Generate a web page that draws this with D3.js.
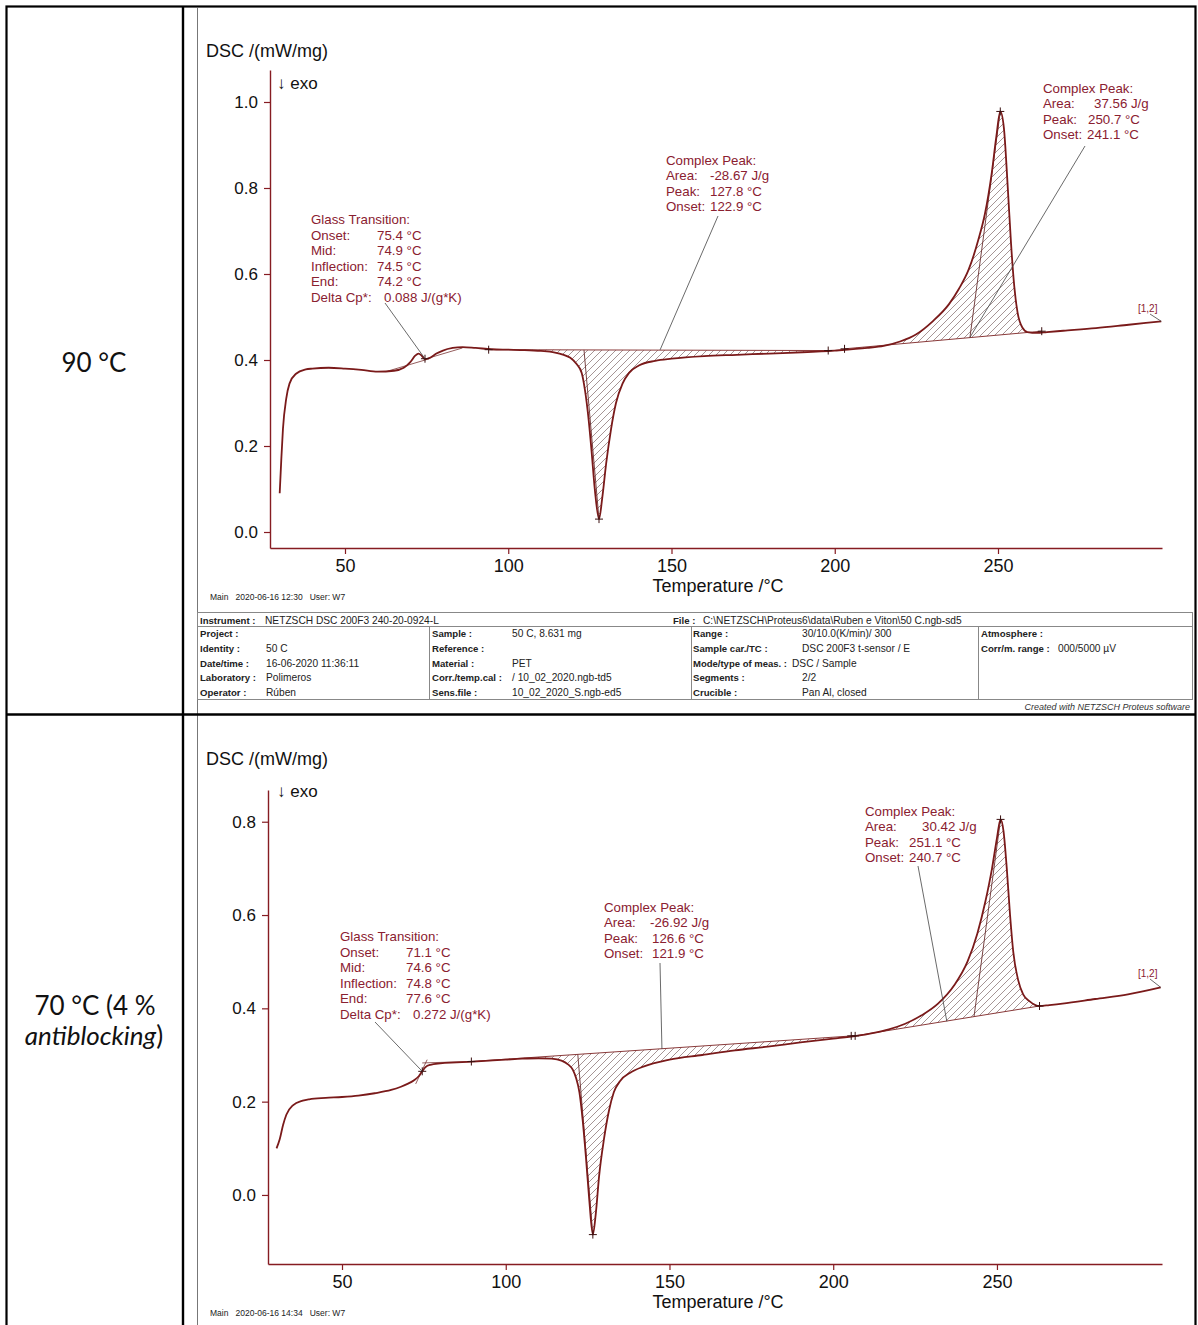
<!DOCTYPE html>
<html><head><meta charset="utf-8">
<script src="https://cdn.jsdelivr.net/npm/d3@7"></script>
<style>body{margin:0;background:#fff}svg{display:block}</style>
</head><body>
<script>
// ---------------- DATA ----------------
const xTicks = [50, 100, 150, 200, 250];
const topYTicks = [0.0, 0.2, 0.4, 0.6, 0.8, 1.0];
const botYTicks = [0.0, 0.2, 0.4, 0.6, 0.8];

// 90 °C curve  [Temperature °C, DSC mW/mg]
const topCurve = [[30,0.09],[30.5,0.17],[31,0.24],[32,0.31],[33,0.345],[35,0.368],[38,0.378],[40,0.38],[45,0.382],[50,0.38],[55,0.377],[60,0.373],[65,0.375],[68,0.382],[70,0.395],[71.5,0.41],[72.5,0.415],[73.5,0.41],[74.5,0.402],[76,0.405],[78,0.415],[80,0.422],[83,0.428],[86,0.43],[90,0.428],[95,0.425],[100,0.424],[105,0.423],[110,0.421],[114,0.418],[117,0.412],[119,0.405],[121,0.39],[122.5,0.37],[123.5,0.33],[124.5,0.27],[125.5,0.19],[126.5,0.1],[127.8,0.03],[128.8,0.08],[130,0.16],[131.5,0.24],[133,0.3],[135,0.345],[137,0.37],[140,0.387],[145,0.398],[150,0.403],[160,0.409],[170,0.412],[180,0.415],[190,0.418],[200,0.422],[210,0.428],[215,0.433],[220,0.443],[225,0.46],[230,0.49],[235,0.53],[238,0.565],[241,0.61],[244,0.68],[246,0.74],[248,0.83],[249.5,0.92],[250.7,0.978],[251.8,0.94],[253,0.8],[254,0.67],[255,0.57],[256,0.51],[257.5,0.475],[259,0.465],[262,0.463],[265,0.465],[270,0.468],[280,0.474],[290,0.482],[300,0.49]];
// 70 °C (4 % antiblocking) curve
const botCurve = [[30,0.1],[31,0.12],[32,0.15],[33,0.172],[35,0.192],[38,0.202],[40,0.205],[45,0.208],[50,0.21],[55,0.213],[60,0.218],[65,0.225],[68,0.232],[70,0.238],[72,0.246],[73.5,0.255],[74.5,0.265],[75.5,0.274],[77,0.279],[80,0.282],[85,0.284],[90,0.286],[95,0.288],[100,0.29],[105,0.292],[110,0.293],[114,0.292],[117,0.288],[119,0.28],[120.5,0.268],[121.5,0.25],[122.5,0.22],[123.5,0.16],[124.5,0.08],[125.5,-0.01],[126.6,-0.085],[127.5,-0.04],[128.5,0.04],[130,0.12],[131.5,0.18],[133,0.22],[135,0.245],[138,0.262],[142,0.275],[150,0.29],[160,0.3],[170,0.31],[180,0.318],[190,0.327],[200,0.335],[207,0.341],[212,0.347],[217,0.355],[222,0.367],[227,0.385],[232,0.41],[237,0.45],[241,0.5],[244,0.56],[246.5,0.63],[248.5,0.7],[250,0.765],[251.1,0.805],[252,0.78],[253,0.7],[254,0.6],[255,0.52],[256.5,0.46],[258,0.43],[260,0.415],[263,0.405],[266,0.407],[270,0.41],[280,0.42],[290,0.43],[300,0.445]];

// peak baselines [[T0,y0],[T1,y1]]
const topBaselines = [[[94,0.424],[198,0.422]], [[203,0.426],[263.4,0.467]]];
const botBaselines = [[[89.5,0.286],[206,0.341]], [[206.7,0.341],[263,0.405]]];
// partition lines: start temperature on baseline -> peak point
const topPartitions = [[123.2,[127.8,0.03]], [241.4,[250.7,0.978]]];
const botPartitions = [[122,[126.6,-0.085]], [243,[251.1,0.805]]];
// markers
const topMarkers = [[74.5,0.403],[94,0.424],[127.8,0.03],[198,0.422],[203,0.426],[250.7,0.978],[263.4,0.467]];
const botMarkers = [[74.5,0.265],[89.5,0.286],[126.6,-0.085],[205.5,0.341],[206.7,0.341],[251.1,0.805],[263,0.405]];
// glass-transition construction lines
const topGlassLines = [[[63,0.374],[75,0.401]], [[74.5,0.402],[86,0.428]]];
const botGlassLines = [[[74.5,0.283],[89.5,0.286]], [[72.5,0.238],[76,0.29]]];

// annotation texts
const glassLabels = ["Onset:", "Mid:", "Inflection:", "End:", "Delta Cp*:"];
const topGlassValues = ["75.4 °C", "74.9 °C", "74.5 °C", "74.2 °C", "0.088 J/(g*K)"];
const botGlassValues = ["71.1 °C", "74.6 °C", "74.8 °C", "77.6 °C", "0.272 J/(g*K)"];
const peakLabels = ["Area:", "Peak:", "Onset:"];
const topPeak1Values = ["-28.67 J/g", "127.8 °C", "122.9 °C"];
const topPeak2Values = ["37.56 J/g", "250.7 °C", "241.1 °C"];
const botPeak1Values = ["-26.92 J/g", "126.6 °C", "121.9 °C"];
const botPeak2Values = ["30.42 J/g", "251.1 °C", "240.7 °C"];

// info table (top chart)
const infoCol1 = [["Project :", ""], ["Identity :", "50 C"], ["Date/time :", "16-06-2020 11:36:11"], ["Laboratory :", "Polimeros"], ["Operator :", "Rúben"]];
const infoCol2 = [["Sample :", "50 C, 8.631 mg"], ["Reference :", ""], ["Material :", "PET"], ["Corr./temp.cal :", "/ 10_02_2020.ngb-td5"], ["Sens.file :", "10_02_2020_S.ngb-ed5"]];
const infoCol3 = [["Range :", "30/10.0(K/min)/ 300"], ["Sample car./TC :", "DSC 200F3 t-sensor / E"], ["Mode/type of meas. :", "DSC / Sample"], ["Segments :", "2/2"], ["Crucible :", "Pan Al, closed"]];
const infoCol4 = [["Atmosphere :", ""], ["Corr/m. range :", "000/5000 µV"]];

// ---------------- DRAW ----------------
const W = 1198, H = 1325;
const FONT = "'Liberation Sans', Arial, Helvetica, sans-serif";
const RED = "#861c22", CURVE = "#7a1a1a", TXT = "#8a2030";
const svg = d3.select("body").append("svg").attr("width", W).attr("height", H);

const defs = svg.append("defs");
const pat = defs.append("pattern").attr("id", "hatch").attr("patternUnits", "userSpaceOnUse")
  .attr("width", 7).attr("height", 7);
pat.append("path").attr("d", "M0,7 L7,0 M-1,1 L1,-1 M6,8 L8,6")
  .attr("stroke", "#8f7a7a").attr("stroke-width", 0.8);

// outer table
const tbl = svg.append("g");
tbl.append("rect").attr("x", 6.5).attr("y", 6.5).attr("width", 1189).attr("height", 1330)
  .attr("fill", "none").attr("stroke", "#000").attr("stroke-width", 2.2);
tbl.append("line").attr("x1", 183).attr("x2", 183).attr("y1", 6).attr("y2", H).attr("stroke", "#000").attr("stroke-width", 2.4);
tbl.append("line").attr("x1", 197.5).attr("x2", 197.5).attr("y1", 8).attr("y2", H).attr("stroke", "#777").attr("stroke-width", 1);
tbl.append("line").attr("x1", 6).attr("x2", 1196).attr("y1", 714.5).attr("y2", 714.5).attr("stroke", "#000").attr("stroke-width", 2.6);

// left column labels
const LFONT = "Lato, 'Open Sans', sans-serif";
svg.append("text").attr("x", 94).attr("y", 372).attr("text-anchor", "middle")
  .attr("font-family", LFONT).attr("font-size", 26).attr("fill", "#111").text("90 °C");
svg.append("text").attr("x", 95).attr("y", 1015).attr("text-anchor", "middle")
  .attr("font-family", LFONT).attr("font-size", 26).attr("fill", "#111").text("70 °C (4 %");
const t2 = svg.append("text").attr("x", 94).attr("y", 1045).attr("text-anchor", "middle")
  .attr("font-family", LFONT).attr("font-size", 26).attr("fill", "#111");
t2.append("tspan").attr("font-style", "italic").text("antiblocking");
t2.append("tspan").text(")");

function lerp(curve, t) {
  for (let i = 0; i < curve.length - 1; i++) {
    const a = curve[i], b = curve[i + 1];
    if (t >= a[0] && t <= b[0]) return a[1] + (b[1] - a[1]) * (t - a[0]) / (b[0] - a[0]);
  }
  return curve[curve.length - 1][1];
}

function textBlock(g, x, y, title, labels, values, offsets, dy) {
  const base = { "font-family": FONT, "font-size": 13.3, "fill": TXT };
  const tt = g.append("text").attr("x", x).attr("y", y).text(title);
  Object.entries(base).forEach(([k, v]) => tt.attr(k, v));
  labels.forEach((l, i) => {
    const a = g.append("text").attr("x", x).attr("y", y + dy * (i + 1)).text(l);
    const b = g.append("text").attr("x", x + offsets[i]).attr("y", y + dy * (i + 1)).text(values[i]);
    Object.entries(base).forEach(([k, v]) => { a.attr(k, v); b.attr(k, v); });
  });
}

function panel(cfg) {
  const g = svg.append("g");
  const x = d3.scaleLinear().domain(cfg.xDomain).range(cfg.xRange);
  const y = d3.scaleLinear().domain(cfg.yDomain).range(cfg.yRange);

  g.append("text").attr("x", 206).attr("y", cfg.titleY).attr("font-family", FONT).attr("font-size", 18)
    .attr("fill", "#111").text("DSC /(mW/mg)");
  g.append("text").attr("x", 277).attr("y", cfg.exoY).attr("font-family", FONT).attr("font-size", 17)
    .attr("fill", "#111").text("↓ exo");

  const yAx = g.append("g").attr("transform", `translate(${cfg.xRange[0]},0)`)
    .call(d3.axisLeft(y).tickValues(cfg.yTicks).tickFormat(d3.format(".1f")).tickSize(6).tickPadding(6).tickSizeOuter(0));
  yAx.select(".domain").attr("stroke", RED).attr("stroke-width", 1.4);
  yAx.selectAll(".tick line").attr("stroke", RED).attr("stroke-width", 1.2);
  yAx.selectAll(".tick text").attr("font-family", FONT).attr("font-size", 17).attr("fill", "#111");

  const xAx = g.append("g").attr("transform", `translate(0,${cfg.yRange[0]})`)
    .call(d3.axisBottom(x).tickValues(xTicks).tickFormat(d3.format("d")).tickSize(6).tickPadding(5).tickSizeOuter(0));
  xAx.select(".domain").attr("stroke", RED).attr("stroke-width", 1.4);
  xAx.selectAll(".tick line").attr("stroke", RED).attr("stroke-width", 1.2);
  xAx.selectAll(".tick text").attr("font-family", FONT).attr("font-size", 18).attr("fill", "#111");

  g.append("text").attr("x", 718).attr("y", cfg.yRange[0] + 44).attr("text-anchor", "middle")
    .attr("font-family", FONT).attr("font-size", 18).attr("fill", "#111").text("Temperature /°C");
  g.append("text").attr("x", 210).attr("y", cfg.yRange[0] + 52).attr("font-family", FONT).attr("font-size", 8.5)
    .attr("fill", "#222").attr("xml:space", "preserve").text(cfg.mainText);

  // hatched areas + baselines
  cfg.baselines.forEach(bl => {
    const [p0, p1] = bl;
    const bf = t => p0[1] + (p1[1] - p0[1]) * (t - p0[0]) / (p1[0] - p0[0]);
    const pts = [[p0[0], lerp(cfg.curve, p0[0])]]
      .concat(cfg.curve.filter(d => d[0] > p0[0] && d[0] < p1[0]))
      .concat([[p1[0], lerp(cfg.curve, p1[0])]]);
    const area = d3.area().x(d => x(d[0])).y0(d => y(bf(d[0]))).y1(d => y(d[1])).curve(d3.curveMonotoneX);
    g.append("path").datum(pts).attr("d", area).attr("fill", "url(#hatch)").attr("stroke", "none");
    g.append("line").attr("x1", x(p0[0])).attr("y1", y(p0[1])).attr("x2", x(p1[0])).attr("y2", y(p1[1]))
      .attr("stroke", "#8a3a3a").attr("stroke-width", 1);
  });
  cfg.partitions.forEach((p, i) => {
    const bl = cfg.baselines[i];
    const bf = t => bl[0][1] + (bl[1][1] - bl[0][1]) * (t - bl[0][0]) / (bl[1][0] - bl[0][0]);
    g.append("line").attr("x1", x(p[0])).attr("y1", y(bf(p[0]))).attr("x2", x(p[1][0])).attr("y2", y(p[1][1]))
      .attr("stroke", "#6a3030").attr("stroke-width", 0.9);
  });
  cfg.glassLines.forEach(l => {
    g.append("line").attr("x1", x(l[0][0])).attr("y1", y(l[0][1])).attr("x2", x(l[1][0])).attr("y2", y(l[1][1]))
      .attr("stroke", "#7a3535").attr("stroke-width", 0.8);
  });

  const line = d3.line().x(d => x(d[0])).y(d => y(d[1])).curve(d3.curveMonotoneX);
  g.append("path").datum(cfg.curve).attr("d", line).attr("fill", "none").attr("stroke", CURVE).attr("stroke-width", 1.8);

  cfg.markers.forEach(m => {
    const cx = x(m[0]), cy = y(m[1]);
    g.append("path").attr("d", `M${cx - 4},${cy}H${cx + 4}M${cx},${cy - 4}V${cy + 4}`)
      .attr("stroke", "#3a1010").attr("stroke-width", 1);
  });

  cfg.leaders.forEach(l => {
    g.append("line").attr("x1", l[0][0]).attr("y1", l[0][1]).attr("x2", x(l[1][0])).attr("y2", y(l[1][1]))
      .attr("stroke", "#444").attr("stroke-width", 0.8);
  });

  const gl = cfg.glassText;
  textBlock(g, gl.x, gl.y, "Glass Transition:", glassLabels, cfg.glassValues, gl.off, 15.5);
  const p1 = cfg.peak1Text;
  textBlock(g, p1.x, p1.y, "Complex Peak:", peakLabels, cfg.peak1Values, p1.off, 15.3);
  const p2 = cfg.peak2Text;
  textBlock(g, p2.x, p2.y, "Complex Peak:", peakLabels, cfg.peak2Values, p2.off, 15.3);
  g.append("text").attr("x", 1138).attr("y", cfg.tagY).attr("font-family", FONT).attr("font-size", 10)
    .attr("fill", TXT).text("[1,2]");
  return { x, y };
}

panel({
  xDomain: [27.03, 300.23], xRange: [270, 1162],
  yDomain: [-0.0372, 1.0744], yRange: [548, 70],
  yTicks: topYTicks, titleY: 57, exoY: 89,
  mainText: "Main   2020-06-16 12:30   User: W7",
  curve: topCurve, baselines: topBaselines, partitions: topPartitions, markers: topMarkers,
  glassLines: topGlassLines,
  leaders: [[[385, 303], [74.5, 0.403]], [[718, 216], [146.5, 0.4235]], [[1085, 146], [241.4, 0.4525]], [[1150, 314], [300, 0.49]]],
  glassText: { x: 311, y: 224, off: [66, 66, 66, 66, 73] }, glassValues: topGlassValues,
  peak1Text: { x: 666, y: 165, off: [44, 44, 44] }, peak1Values: topPeak1Values,
  peak2Text: { x: 1043, y: 93, off: [51, 45, 44] }, peak2Values: topPeak2Values,
  tagY: 312
});

panel({
  xDomain: [27.4, 300.4], xRange: [268, 1162],
  yDomain: [-0.148, 0.868], yRange: [1264, 790],
  yTicks: botYTicks, titleY: 765, exoY: 797,
  mainText: "Main   2020-06-16 14:34   User: W7",
  curve: botCurve, baselines: botBaselines, partitions: botPartitions, markers: botMarkers,
  glassLines: botGlassLines,
  leaders: [[[375, 1022], [74.5, 0.265]], [[660, 963], [147.7, 0.313]], [[918, 866], [234.7, 0.372]], [[1150, 979], [300, 0.445]]],
  glassText: { x: 340, y: 941, off: [66, 66, 66, 66, 73] }, glassValues: botGlassValues,
  peak1Text: { x: 604, y: 912, off: [46, 48, 48] }, peak1Values: botPeak1Values,
  peak2Text: { x: 865, y: 816, off: [57, 44, 44] }, peak2Values: botPeak2Values,
  tagY: 977
});

// info table
const it = svg.append("g").attr("font-family", FONT).attr("font-size", 10.2).attr("fill", "#222");
const LG = "#888";
it.append("rect").attr("x", 197.5).attr("y", 612.5).attr("width", 995).attr("height", 87)
  .attr("fill", "none").attr("stroke", LG).attr("stroke-width", 1);
it.append("line").attr("x1", 197.5).attr("x2", 1192.5).attr("y1", 626.5).attr("y2", 626.5).attr("stroke", LG);
[429.5, 691.5, 978.5].forEach(xx => it.append("line").attr("x1", xx).attr("x2", xx).attr("y1", 626.5).attr("y2", 699.5).attr("stroke", LG));
function cell(xl, xv, yy, lab, val, labLen) {
  const t = it.append("text").attr("x", xl).attr("y", yy).attr("font-weight", "bold").attr("font-size", 9.6).text(lab);
  if (labLen) t.attr("textLength", labLen).attr("lengthAdjust", "spacingAndGlyphs");
  if (val) it.append("text").attr("x", xv).attr("y", yy).text(val);
}
cell(200, 265, 624, "Instrument :", "NETZSCH DSC 200F3 240-20-0924-L");
cell(673, 703, 624, "File :", "C:\\NETZSCH\\Proteus6\\data\\Ruben e Viton\\50 C.ngb-sd5");
const rowY = [637, 652, 666.5, 681, 695.5];
infoCol1.forEach((r, i) => cell(200, 266, rowY[i], r[0], r[1]));
infoCol2.forEach((r, i) => cell(432, 512, rowY[i], r[0], r[1]));
infoCol3.forEach((r, i) => cell(693, i === 2 ? 792 : 802, rowY[i], r[0], r[1], i === 2 ? 94 : null));
infoCol4.forEach((r, i) => cell(981, 1058, rowY[i], r[0], r[1]));
it.append("text").attr("x", 1190).attr("y", 710).attr("text-anchor", "end").attr("font-style", "italic")
  .attr("font-size", 9).attr("fill", "#333").text("Created with NETZSCH Proteus software");
</script>
</body></html>
